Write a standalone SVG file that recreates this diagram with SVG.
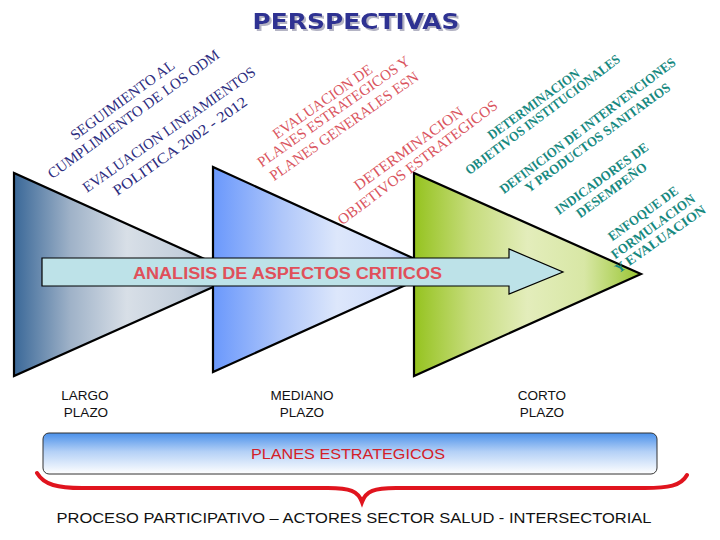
<svg xmlns="http://www.w3.org/2000/svg" width="720" height="540" viewBox="0 0 720 540">
<defs>
<linearGradient id="g1" x1="0" y1="0" x2="1" y2="0">
<stop offset="0" stop-color="#3a6898"/><stop offset="0.25" stop-color="#9fb2c8"/><stop offset="0.5" stop-color="#d8dfe7"/><stop offset="0.75" stop-color="#c3cedb"/><stop offset="1" stop-color="#7a92b2"/>
</linearGradient>
<linearGradient id="g2" x1="0" y1="0" x2="1" y2="0">
<stop offset="0" stop-color="#6a98fc"/><stop offset="0.3" stop-color="#aec6fa"/><stop offset="0.55" stop-color="#dde7fb"/><stop offset="0.78" stop-color="#cfdcfa"/><stop offset="1" stop-color="#7ea5f4"/>
</linearGradient>
<linearGradient id="g3" x1="0" y1="0" x2="1" y2="0">
<stop offset="0" stop-color="#95c31f"/><stop offset="0.25" stop-color="#c6dc7c"/><stop offset="0.5" stop-color="#e3edbb"/><stop offset="0.75" stop-color="#d8e7a5"/><stop offset="1" stop-color="#98c530"/>
</linearGradient>
<linearGradient id="gbox" x1="0" y1="0" x2="0" y2="1">
<stop offset="0" stop-color="#4a90ea"/><stop offset="0.45" stop-color="#b3d0f6"/><stop offset="1" stop-color="#ffffff"/>
</linearGradient>
<filter id="shadow" x="-5%" y="-20%" width="110%" height="150%">
<feFlood flood-color="#b4b4c4"/>
<feComposite in2="SourceAlpha" operator="in"/>
<feOffset dx="2" dy="2" result="sh"/>
<feMerge><feMergeNode in="sh"/><feMergeNode in="SourceGraphic"/></feMerge>
</filter>
</defs>
<style>
.tri{stroke:#000;stroke-width:2.2;stroke-linejoin:miter}
.navy{fill:#2d2d80;font-family:"Liberation Serif",serif;font-size:15px;text-anchor:middle}
.red{fill:#da5560;font-family:"Liberation Serif",serif;font-size:15px;text-anchor:middle}
.teal{fill:#17897f;font-family:"Liberation Serif",serif;font-weight:bold;font-size:13.5px;text-anchor:middle}
.lbl{fill:#111;font-family:"Liberation Sans",sans-serif;font-size:13.5px;text-anchor:middle}
</style>
<rect width="720" height="540" fill="#fff"/>

<g id="title">
<text x="356" y="29" font-family="DejaVu Sans,sans-serif" font-weight="bold" font-size="21" fill="#2e3192" text-anchor="middle" textLength="207" lengthAdjust="spacingAndGlyphs" filter="url(#shadow)">PERSPECTIVAS</text>
</g>

<g id="largo">
<polygon class="tri" points="14,173 14,376 240,275" fill="url(#g1)"/>
</g>
<g id="mediano">
<polygon class="tri" points="213,167 213,372 439,270" fill="url(#g2)"/>
</g>
<g id="corto">
<polygon class="tri" points="414,173 414,376 641,274" fill="url(#g3)"/>
</g>

<g id="analisis">
<polygon points="42,258 509,258 509,249 563,272 509,294 509,286 42,286" fill="#bde2e8" stroke="#000" stroke-width="1.2"/>
<text x="287.5" y="279" font-family="Liberation Sans,sans-serif" font-weight="bold" font-size="16" fill="#e0505a" text-anchor="middle" textLength="309" lengthAdjust="spacingAndGlyphs">ANALISIS DE ASPECTOS CRITICOS</text>
</g>

<g id="texto-largo">
<text class="navy" transform="translate(122.5,100) rotate(-36)" y="5" textLength="125" lengthAdjust="spacingAndGlyphs">SEGUIMIENTO AL</text>
<text class="navy" transform="translate(133.5,114) rotate(-36)" y="5" textLength="208" lengthAdjust="spacingAndGlyphs">CUMPLIMIENTO DE LOS ODM</text>
<text class="navy" transform="translate(169,129.5) rotate(-35)" y="5" textLength="207" lengthAdjust="spacingAndGlyphs">EVALUACION LINEAMIENTOS</text>
<text class="navy" transform="translate(180,146) rotate(-35)" y="5" textLength="160" lengthAdjust="spacingAndGlyphs">POLITICA 2002 - 2012</text>
</g>

<g id="texto-mediano">
<text class="red" transform="translate(322.5,101.5) rotate(-35)" y="5" textLength="118" lengthAdjust="spacingAndGlyphs">EVALUACION DE</text>
<text class="red" transform="translate(333.5,111.5) rotate(-35)" y="5" textLength="182" lengthAdjust="spacingAndGlyphs">PLANES ESTRATEGICOS Y</text>
<text class="red" transform="translate(344,126) rotate(-35)" y="5" textLength="178" lengthAdjust="spacingAndGlyphs">PLANES GENERALES ESN</text>
<text class="red" transform="translate(408.5,148.5) rotate(-36)" y="5" textLength="131" lengthAdjust="spacingAndGlyphs">DETERMINACION</text>
<text class="red" transform="translate(417.5,162.5) rotate(-37)" y="5" textLength="196" lengthAdjust="spacingAndGlyphs">OBJETIVOS ESTRATEGICOS</text>
</g>

<g id="texto-corto">
<text class="teal" transform="translate(533.5,104) rotate(-36)" y="4.6" textLength="110" lengthAdjust="spacingAndGlyphs">DETERMINACION</text>
<text class="teal" transform="translate(542.5,114.5) rotate(-37)" y="4.6" textLength="190" lengthAdjust="spacingAndGlyphs">OBJETIVOS INSTITUCIONALES</text>
<text class="teal" transform="translate(587.5,125.5) rotate(-37)" y="4.6" textLength="216" lengthAdjust="spacingAndGlyphs">DEFINICION DE INTERVENCIONES</text>
<text class="teal" transform="translate(597.5,137.5) rotate(-36)" y="4.6" textLength="176" lengthAdjust="spacingAndGlyphs">Y PRODUCTOS SANITARIOS</text>
<text class="teal" transform="translate(601.5,178.5) rotate(-36)" y="4.6" textLength="112" lengthAdjust="spacingAndGlyphs">INDICADORES DE</text>
<text class="teal" transform="translate(611.5,190) rotate(-36)" y="4.6" textLength="84" lengthAdjust="spacingAndGlyphs">DESEMPEÑO</text>
<text class="teal" transform="translate(643,213.5) rotate(-36)" y="4.6" textLength="83" lengthAdjust="spacingAndGlyphs">ENFOQUE DE</text>
<text class="teal" transform="translate(653,226.5) rotate(-36)" y="4.6" textLength="100" lengthAdjust="spacingAndGlyphs">FORMULACION</text>
<text class="teal" transform="translate(660,239) rotate(-35)" y="4.6" textLength="108" lengthAdjust="spacingAndGlyphs">Y EVALUACION</text>
</g>

<g id="plazos">
<text class="lbl" x="85" y="400">LARGO</text>
<text class="lbl" x="86" y="417">PLAZO</text>
<text class="lbl" x="302" y="400">MEDIANO</text>
<text class="lbl" x="302" y="417">PLAZO</text>
<text class="lbl" x="542" y="400">CORTO</text>
<text class="lbl" x="542" y="417">PLAZO</text>
</g>

<g id="planes">
<rect x="43" y="433" width="614" height="41" rx="6" ry="6" fill="url(#gbox)" stroke="#333" stroke-width="1"/>
<text x="348" y="459" font-family="Liberation Sans,sans-serif" font-size="15" fill="#d42028" text-anchor="middle" textLength="194" lengthAdjust="spacingAndGlyphs">PLANES ESTRATEGICOS</text>
</g>

<g id="connectors">
<path d="M37,473 C44,485 58,488 82,488 L328,488 C350,488 358,491 362,502 C366,491 374,488 396,488 L645,488 C668,488 681,486 687,475" fill="none" stroke="#e0141e" stroke-width="4" stroke-linecap="round"/>
</g>

<g id="proceso">
<text x="354" y="523" font-family="Liberation Sans,sans-serif" font-size="15" fill="#111" text-anchor="middle" textLength="595" lengthAdjust="spacingAndGlyphs">PROCESO PARTICIPATIVO – ACTORES SECTOR SALUD - INTERSECTORIAL</text>
</g>
</svg>
